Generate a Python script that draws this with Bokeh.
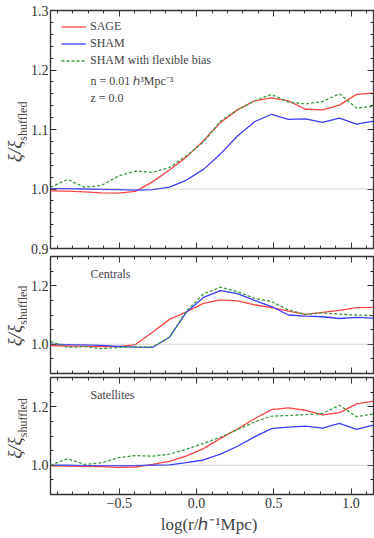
import numpy as np
from bokeh.plotting import figure
from bokeh.models import (FixedTicker, LinearAxis, Range1d, Span, Label, Legend,
                          LegendItem, PrintfTickFormatter)
from bokeh.layouts import column, row
from bokeh.embed import file_html
from bokeh.resources import INLINE

# ---------------- data ----------------
log_r = [-0.945, -0.835, -0.725, -0.615, -0.505, -0.395, -0.285, -0.175, -0.065, 0.045,
         0.155, 0.265, 0.375, 0.485, 0.595, 0.705, 0.815, 0.925, 1.035, 1.145]

all_sage = [0.997, 0.9965, 0.995, 0.9935, 0.993, 0.996, 1.012, 1.032, 1.054, 1.081,
            1.112, 1.133, 1.148, 1.153, 1.148, 1.134, 1.133, 1.141, 1.159, 1.161]
all_sham = [1.0005, 1.0005, 1.000, 0.9995, 0.999, 0.998, 0.999, 1.003, 1.015, 1.033,
            1.059, 1.089, 1.113, 1.1256, 1.117, 1.118, 1.112, 1.119, 1.109, 1.114]
all_flex = [1.003, 1.016, 1.003, 1.006, 1.022, 1.030, 1.028, 1.036, 1.056, 1.079,
            1.114, 1.133, 1.148, 1.159, 1.146, 1.143, 1.147, 1.160, 1.136, 1.139]

cen_sage = [0.995, 0.994, 0.993, 0.992, 0.992, 0.999, 1.041, 1.085, 1.111, 1.140,
            1.152, 1.148, 1.135, 1.125, 1.113, 1.102, 1.109, 1.116, 1.125, 1.126]
cen_sham = [1.000, 0.999, 0.998, 0.996, 0.993, 0.990, 0.989, 1.024, 1.110, 1.160,
            1.183, 1.173, 1.150, 1.129, 1.100, 1.096, 1.094, 1.088, 1.092, 1.089]
cen_flex = [1.010, 0.989, 0.992, 0.985, 0.989, 0.991, 0.991, 1.024, 1.114, 1.172,
            1.195, 1.180, 1.157, 1.146, 1.117, 1.102, 1.107, 1.103, 1.100, 1.098]

sat_sage = [0.998, 0.997, 0.996, 0.995, 0.993, 0.994, 1.003, 1.013, 1.032, 1.057,
            1.092, 1.124, 1.159, 1.190, 1.196, 1.188, 1.172, 1.180, 1.210, 1.219]
sat_sham = [1.000, 1.000, 0.999, 0.999, 0.999, 0.999, 1.000, 1.001, 1.009, 1.018,
            1.038, 1.065, 1.097, 1.125, 1.130, 1.134, 1.127, 1.143, 1.123, 1.137]
sat_flex = [1.000, 1.022, 1.003, 1.008, 1.026, 1.033, 1.031, 1.038, 1.055, 1.075,
            1.096, 1.122, 1.148, 1.168, 1.170, 1.173, 1.177, 1.205, 1.166, 1.175]

series_labels = ["SAGE", "SHAM", "SHAM with flexible bias"]
panel_titles = [None, "Centrals", "Satellites"]
x_tick_labels = {-0.5: "\u22120.5", 0.0: "0.0", 0.5: "0.5", 1.0: "1.0"}
y_label_main = "\u03be/\u03be"
y_label_sub = "shuffled"
x_label = "log(r/\u210e\u207b\u00b9Mpc)"

# ---------------- style ----------------
FONT = "Liberation Serif"
FRAME = "#333333"
TICK = "#333333"
TXT = "#444444"
RED = "#ff4545"
BLUE = "#3c3cff"
GREEN = "#3a9a3a"
LAB_W = 27          # width of the strip that holds the y labels
LEFT_B = 20         # border left of each frame (tick labels)

X_LO, X_HI = -0.945, 1.145
X_MAJOR = [-0.5, 0.0, 0.5, 1.0]
X_MINOR = [round(v, 2) for v in np.arange(-0.9, 1.15, 0.1)]


def tick_style(ax):
    ax.axis_line_color = None
    ax.major_tick_out = 0
    ax.minor_tick_out = 0
    ax.major_tick_line_color = FRAME
    ax.minor_tick_line_color = FRAME
    ax.major_tick_line_width = 1
    ax.minor_tick_line_width = 1


def labelled_axis(ax, ticks, minor, overrides=None):
    ax.ticker = FixedTicker(ticks=ticks, minor_ticks=minor)
    ax.formatter = PrintfTickFormatter(format="%.1f")
    tick_style(ax)
    ax.major_tick_in = 6
    ax.minor_tick_in = 3
    ax.major_label_text_font = FONT
    ax.major_label_text_font_size = "14px"
    ax.major_label_text_color = TICK
    ax.major_label_standoff = 2
    if overrides:
        ax.major_label_overrides = overrides


def bare_axis(ax, ticks, length):
    # an axis that draws only tick marks (no labels): ticks given as minor ticks
    ax.ticker = FixedTicker(ticks=[], minor_ticks=ticks)
    tick_style(ax)
    ax.major_tick_in = 0
    ax.minor_tick_in = length


def blank_fig(w, h):
    f = figure(width=w, height=h, x_range=Range1d(0, w), y_range=Range1d(0, h),
               output_backend="svg", toolbar_location=None, min_border=0,
               x_axis_location=None, y_axis_location=None,
               outline_line_color=None, background_fill_color="white",
               border_fill_color="white")
    f.grid.visible = False
    return f


def make_panel(frame_h, top_b, bot_b, y_major, y_minor, show_x, sage, sham, flex, title):
    p = figure(frame_width=323, frame_height=frame_h,
               x_range=Range1d(X_LO, X_HI), y_range=Range1d(0.9, 1.3),
               output_backend="svg", toolbar_location=None,
               min_border_left=LEFT_B, min_border_right=4,
               min_border_top=top_b, min_border_bottom=bot_b,
               background_fill_color="white", border_fill_color="white",
               outline_line_color=FRAME, outline_line_width=1.3)
    p.grid.visible = False
    labelled_axis(p.left[0], y_major, y_minor)
    if show_x:
        labelled_axis(p.below[0], X_MAJOR, X_MINOR, x_tick_labels)
        p.below[0].major_label_standoff = 3
    else:
        bare_axis(p.below[0], X_MINOR, 3)
        ax = LinearAxis()
        bare_axis(ax, X_MAJOR, 6)
        p.add_layout(ax, "below")
    for ticks, length in ((y_minor, 3), (y_major, 6)):
        ax = LinearAxis()
        bare_axis(ax, ticks, length)
        p.add_layout(ax, "right")
    for ticks, length in ((X_MINOR, 3), (X_MAJOR, 6)):
        ax = LinearAxis()
        bare_axis(ax, ticks, length)
        p.add_layout(ax, "above")

    p.add_layout(Span(location=1.0, dimension="width", line_color="#9a9a9a",
                      line_width=0.8, line_dash="1 1"))
    r1 = p.line(log_r, sage, line_color=RED, line_width=1.3)
    r2 = p.line(log_r, sham, line_color=BLUE, line_width=1.3)
    r3 = p.line(log_r, flex, line_color=GREEN, line_width=1.3, line_dash="3 2")

    if title:
        p.add_layout(Label(x=40, y=frame_h - 17, x_units="screen", y_units="screen",
                           text=title, text_align="left", text_baseline="middle",
                           text_font=FONT, text_font_size="12px", text_color=TXT))

    # strip on the left with the rotated y label  xi / xi_shuffled
    fig_h = top_b + frame_h + bot_b
    lab = blank_fig(LAB_W, fig_h)
    split = fig_h - (top_b + frame_h / 2 + 10.5)
    lab.add_layout(Label(x=13.5, y=split, text=y_label_main, angle=np.pi / 2,
                         text_align="right", text_baseline="alphabetic",
                         text_font=FONT, text_font_size="19px", text_font_style="italic",
                         text_color=TXT))
    lab.add_layout(Label(x=22.5, y=split, text=y_label_sub, angle=np.pi / 2,
                         text_align="left", text_baseline="alphabetic",
                         text_font=FONT, text_font_size="12px", text_color=TXT))
    return p, lab, (r1, r2, r3)


y_major_top = [0.9, 1.0, 1.1, 1.2, 1.3]
y_minor_top = [round(v, 2) for v in np.arange(0.9, 1.301, 0.02)]
y_major_sub = [1.0, 1.2]
y_minor_sub = [round(v, 2) for v in np.arange(0.9, 1.301, 0.05)]

p1, l1, rs = make_panel(238, 10, 7, y_major_top, y_minor_top, False,
                        all_sage, all_sham, all_flex, panel_titles[0])
legend = Legend(items=[LegendItem(label=l, renderers=[r]) for l, r in zip(series_labels, rs)],
                location=(11, 179), border_line_color=None, background_fill_alpha=0,
                label_text_font=FONT, label_text_font_size="12px", label_text_color=TXT,
                glyph_width=25, glyph_height=17, label_height=17, spacing=0,
                padding=0, margin=0, label_standoff=4)
p1.add_layout(legend)
p1.add_layout(Label(x=40, y=168, x_units="screen", y_units="screen",
                    text="n = 0.01 \u210e\u00b3Mpc\u207b\u00b3", text_align="left",
                    text_baseline="middle", text_font=FONT, text_font_size="12px",
                    text_color=TXT))
p1.add_layout(Label(x=40, y=151, x_units="screen", y_units="screen", text="z = 0.0",
                    text_align="left", text_baseline="middle", text_font=FONT,
                    text_font_size="12px", text_color=TXT))

p2, l2, _ = make_panel(117, 1, 2, y_major_sub, y_minor_sub, False,
                       cen_sage, cen_sham, cen_flex, panel_titles[1])
p3, l3, _ = make_panel(117, 2, 20, y_major_sub, y_minor_sub, True,
                       sat_sage, sat_sham, sat_flex, panel_titles[2])

# strip below with the x label
xl = blank_fig(LAB_W + LEFT_B + 323 + 4, 24)
xl.add_layout(Label(x=LAB_W + LEFT_B + 323 / 2, y=14, text=x_label, text_align="center",
                    text_baseline="middle", text_font=FONT, text_font_size="17px",
                    text_color=TXT))

layout = column(row(l1, p1, spacing=0), row(l2, p2, spacing=0), row(l3, p3, spacing=0),
                xl, spacing=0)
open("out.html", "w").write(file_html(layout, INLINE))
